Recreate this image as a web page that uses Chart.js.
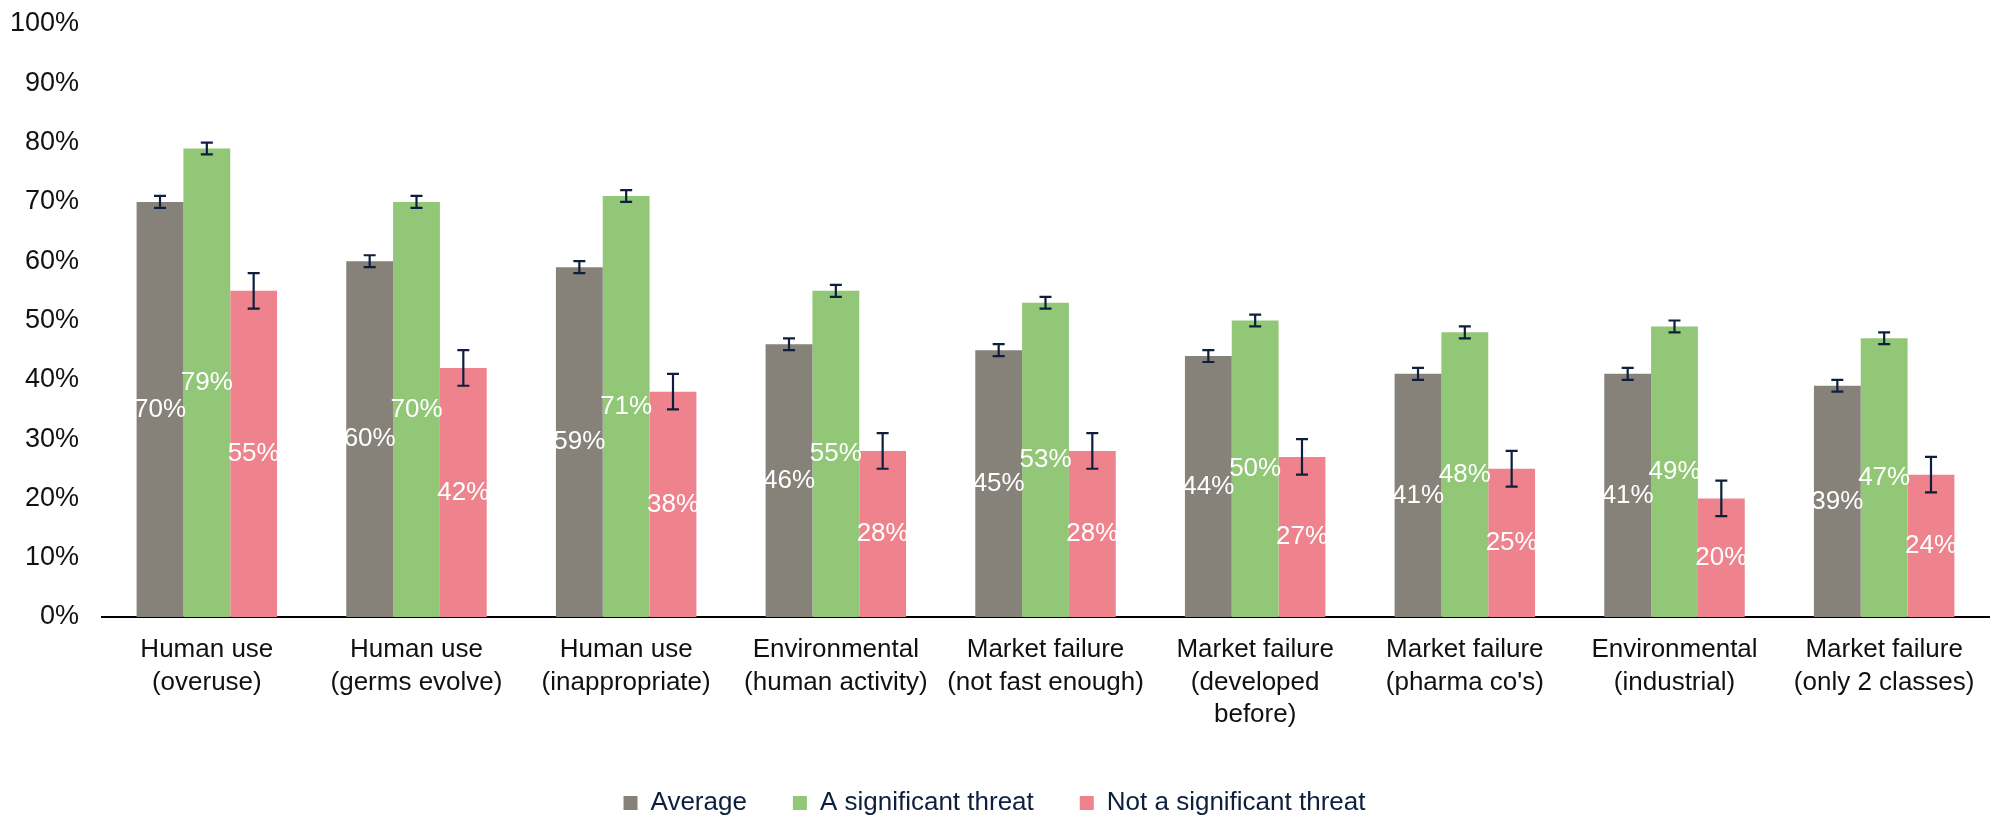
<!DOCTYPE html>
<html>
<head>
<meta charset="utf-8">
<script src="https://cdn.jsdelivr.net/npm/chart.js@4"></script>
<style>
  html, body { margin: 0; padding: 0; background: #fff; }
  #wrap { width: 1993px; height: 816px; }
</style>
</head>
<body>
<div id="wrap"><canvas id="threatChart"></canvas></div>
<script>
const categories = [
    ["Human use", "(overuse)"],
    ["Human use", "(germs evolve)"],
    ["Human use", "(inappropriate)"],
    ["Environmental", "(human activity)"],
    ["Market failure", "(not fast enough)"],
    ["Market failure", "(developed", "before)"],
    ["Market failure", "(pharma co's)"],
    ["Environmental", "(industrial)"],
    ["Market failure", "(only 2 classes)"]
];
const averageValues = [70, 60, 59, 46, 45, 44, 41, 41, 39];
const significantValues = [79, 70, 71, 55, 53, 50, 48, 49, 47];
const notSignificantValues = [55, 42, 38, 28, 28, 27, 25, 20, 24];
const averageErrors = [1, 1, 1, 1, 1, 1, 1, 1, 1];
const significantErrors = [1, 1, 1, 1, 1, 1, 1, 1, 1];
const notSignificantErrors = [3, 3, 3, 3, 3, 3, 3, 3, 3];
const yTicks = [0, 10, 20, 30, 40, 50, 60, 70, 80, 90, 100];

const FONT = "'Liberation Sans', Arial, sans-serif";

// error bars + centred value labels, drawn on top of the bars
const barExtras = {
    id: "barExtras",
    afterDatasetsDraw(chart) {
        const ctx = chart.ctx;
        const yScale = chart.scales.y;
        ctx.save();
        chart.data.datasets.forEach((ds, di) => {
            const meta = chart.getDatasetMeta(di);
            meta.data.forEach((bar, i) => {
                const v = ds.data[i];
                const e = ds.errors[i];
                const yHi = yScale.getPixelForValue(v + e);
                const yLo = yScale.getPixelForValue(v - e);
                ctx.strokeStyle = "#0e1f3d";
                ctx.lineWidth = 2.2;
                ctx.beginPath();
                ctx.moveTo(bar.x, yHi);
                ctx.lineTo(bar.x, yLo);
                ctx.moveTo(bar.x - 6, yHi);
                ctx.lineTo(bar.x + 6, yHi);
                ctx.moveTo(bar.x - 6, yLo);
                ctx.lineTo(bar.x + 6, yLo);
                ctx.stroke();
            });
        });
        ctx.fillStyle = "#ffffff";
        ctx.font = "26px " + FONT;
        ctx.textAlign = "center";
        ctx.textBaseline = "middle";
        chart.data.datasets.forEach((ds, di) => {
            const meta = chart.getDatasetMeta(di);
            meta.data.forEach((bar, i) => {
                ctx.fillText(ds.data[i] + "%", bar.x, (bar.y + bar.base) / 2);
            });
        });
        ctx.restore();
    }
};

new Chart(document.getElementById("threatChart"), {
    type: "bar",
    data: {
        labels: categories,
        datasets: [
            { label: "Average", data: averageValues, errors: averageErrors, backgroundColor: "#878279" },
            { label: "A significant threat", data: significantValues, errors: significantErrors, backgroundColor: "#92c777" },
            { label: "Not a significant threat", data: notSignificantValues, errors: notSignificantErrors, backgroundColor: "#ee838d" }
        ]
    },
    options: {
        responsive: true,
        maintainAspectRatio: false,
        animation: false,
        layout: { padding: { top: 0, right: 4, left: 0, bottom: 0 } },
        datasets: { bar: { barPercentage: 1, categoryPercentage: 0.67 } },
        plugins: {
            tooltip: { enabled: false },
            legend: {
                position: "bottom",
                maxHeight: 72,
                labels: {
                    color: "#0e1f3d",
                    font: { family: FONT, size: 26 },
                    boxWidth: 14,
                    boxHeight: 14,
                    padding: 46
                }
            }
        },
        scales: {
            x: {
                grid: { display: false },
                border: { display: true, color: "#000", width: 2 },
                ticks: {
                    color: "#111",
                    font: { family: FONT, size: 26, lineHeight: 1.25 },
                    padding: 9,
                    maxRotation: 0,
                    autoSkip: false
                },
                afterFit(scale) { scale.height = 127; }
            },
            y: {
                min: 0,
                max: 100,
                grid: { display: false, drawTicks: false },
                border: { display: false },
                afterBuildTicks(scale) { scale.ticks = yTicks.map(v => ({ value: v })); },
                ticks: {
                    color: "#111",
                    font: { family: FONT, size: 27 },
                    padding: 23,
                    callback: v => v + "%"
                },
                afterFit(scale) {
                    scale.width = 102;
                    scale.paddingTop = 24;
                }
            }
        }
    },
    plugins: [barExtras]
});
</script>
</body>
</html>
